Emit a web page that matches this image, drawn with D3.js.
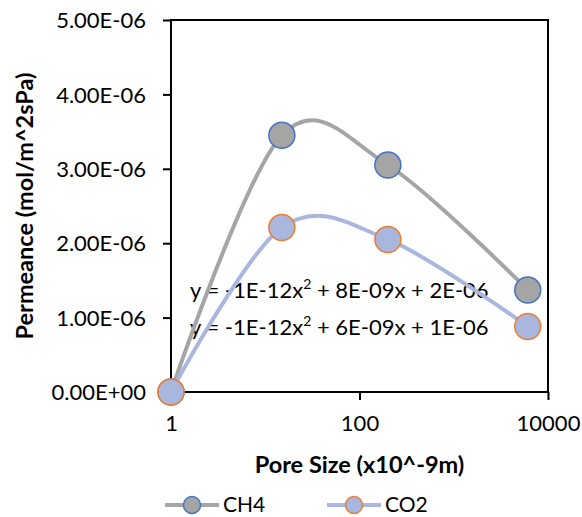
<!DOCTYPE html>
<html>
<head>
<meta charset="utf-8">
<script src="https://cdn.jsdelivr.net/npm/d3@7"></script>
<style>
  body { margin: 0; background: #fff; }
  svg text { font-family: Lato, "Open Sans", sans-serif; fill: #000; }
</style>
</head>
<body>
<div id="chart"></div>
<script>
const poreSizes = [1, 15, 200, 6100];
const ch4Values = [0, 3.45e-6, 3.05e-6, 1.37e-6];
const co2Values = [0, 2.21e-6, 2.05e-6, 0.88e-6];
const yTicks = [0, 1e-6, 2e-6, 3e-6, 4e-6, 5e-6];
const xTicks = [1, 100, 10000];
const seriesNames = ['CH4', 'CO2'];
const trendLabels = [
    ['y = -1E-12x', '2', ' + 8E-09x + 2E-06'],
    ['y = -1E-12x', '2', ' + 6E-09x + 1E-06']
];

const chartWidth = 582;
const chartHeight = 517;
const margin = { top: 20, right: 34, bottom: 125, left: 171 };
const width = chartWidth - margin.left - margin.right;
const height = chartHeight - margin.top - margin.bottom;
const fontSize = '22px';
const titleSize = '23.5px';

const series = [
    { name: seriesNames[0], values: ch4Values, line: '#A5A5A5', fill: '#A5A5A5', stroke: '#4472C4' },
    { name: seriesNames[1], values: co2Values, line: '#A9B7DE', fill: '#A9B7DE', stroke: '#ED7D31' }
];

const svg = d3.select('#chart')
    .append('svg')
    .attr('width', chartWidth)
    .attr('height', chartHeight);

const g = svg.append('g')
    .attr('transform', `translate(${margin.left},${margin.top})`);

const x = d3.scaleLog()
    .domain([1, 10000])
    .range([0, width]);

const y = d3.scaleLinear()
    .domain([0, 5e-6])
    .range([height, 0]);

// frame
g.append('rect')
    .attr('width', width)
    .attr('height', height)
    .attr('fill', 'none')
    .attr('stroke', '#000')
    .attr('stroke-width', 2);

const yAxis = g.append('g')
    .call(d3.axisLeft(y).tickValues(yTicks).tickSize(8).tickPadding(17)
        .tickFormat(d => d3.format('.2e')(d).replace('e', 'E').replace(/E([+-])(\d)$/, 'E$10$2')));
yAxis.select('.domain').remove();
yAxis.selectAll('line').attr('stroke', '#000').attr('stroke-width', 2);
yAxis.selectAll('text').style('font-size', fontSize).attr('dy', '0.35em');

const xAxis = g.append('g')
    .attr('transform', `translate(0,${height})`)
    .call(d3.axisBottom(x).tickValues(xTicks).tickSize(8).tickPadding(15).tickFormat(d3.format('d')));
xAxis.select('.domain').remove();
xAxis.selectAll('line').attr('stroke', '#000').attr('stroke-width', 2);
xAxis.selectAll('text').style('font-size', fontSize);

// trendline equations
trendLabels.forEach((parts, i) => {
    const t = g.append('text')
        .attr('x', 19)
        .attr('y', i === 0 ? 278 : 315)
        .style('font-size', fontSize);
    t.append('tspan').text(parts[0]);
    t.append('tspan').attr('dy', -9).style('font-size', '14px').text(parts[1]);
    t.append('tspan').attr('dy', 9).text(parts[2]);
});

const line = d3.line()
    .x((d, i) => x(poreSizes[i]))
    .y(d => y(d))
    .curve(d3.curveCardinal.tension(0));

series.forEach(s => {
    g.append('path')
        .datum(s.values)
        .attr('d', line)
        .attr('fill', 'none')
        .attr('stroke', s.line)
        .attr('stroke-width', 4);

    g.selectAll(null)
        .data(s.values)
        .enter().append('circle')
        .attr('cx', (d, i) => x(poreSizes[i]))
        .attr('cy', d => y(d))
        .attr('r', 13)
        .attr('fill', s.fill)
        .attr('stroke', s.stroke)
        .attr('stroke-width', 1.5);
});

// axis titles
g.append('text')
    .attr('x', width / 2)
    .attr('y', height + 81)
    .attr('text-anchor', 'middle')
    .style('font-size', titleSize)
    .style('font-weight', 'bold')
    .text('Pore Size (x10^-9m)');

g.append('text')
    .attr('transform', 'rotate(-90)')
    .attr('x', -height / 2)
    .attr('y', -138)
    .attr('text-anchor', 'middle')
    .style('font-size', titleSize)
    .style('font-weight', 'bold')
    .text('Permeance (mol/m^2sPa)');

// legend
const legend = svg.append('g')
    .attr('transform', `translate(0,${chartHeight - 12})`);

series.forEach((s, i) => {
    const lx = i === 0 ? 165 : 327;
    const item = legend.append('g').attr('transform', `translate(${lx},0)`);
    item.append('line')
        .attr('x1', 0).attr('x2', 54)
        .attr('stroke', s.line)
        .attr('stroke-width', 4);
    item.append('circle')
        .attr('cx', 27)
        .attr('r', 8.5)
        .attr('fill', s.fill)
        .attr('stroke', s.stroke)
        .attr('stroke-width', 1.5);
    item.append('text')
        .attr('x', 58)
        .attr('dy', '0.35em')
        .style('font-size', '21px')
        .text(s.name);
});
</script>
</body>
</html>
